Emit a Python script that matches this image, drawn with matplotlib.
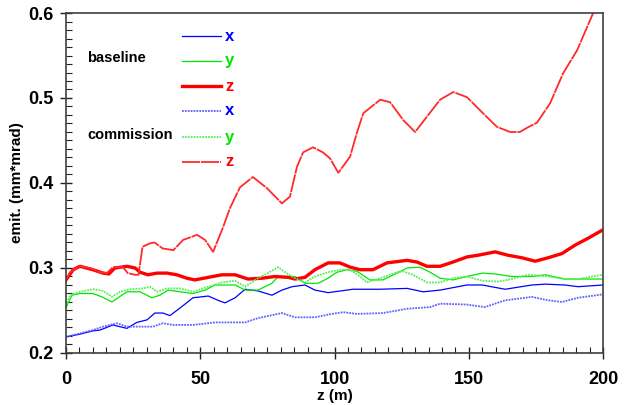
import numpy as np
import matplotlib
matplotlib.use("Agg")
import matplotlib.pyplot as plt
from matplotlib.lines import Line2D
from matplotlib.ticker import MultipleLocator, FormatStrFormatter

plt.rcParams['font.family'] = ['Liberation Sans', 'DejaVu Sans']

# baseline
bx_z = [0, 5, 10, 12.7, 17.5, 20, 22.7, 26.4, 30.2, 33.1, 36.1, 38.7, 42.5, 47.3, 53, 56.6, 59.2, 63, 66.7,
        71.5, 76.7, 80.4, 84.2, 89, 92.7, 97.6, 106.9, 117, 127, 133, 139.3, 149.3, 155, 163.5, 173.5,
        178.4, 185.8, 190.7, 200]
bx_v = [0.219, 0.222, 0.226, 0.227, 0.233, 0.231, 0.229, 0.236, 0.239, 0.247, 0.247, 0.244, 0.253, 0.265,
        0.267, 0.262, 0.259, 0.265, 0.275, 0.273, 0.268, 0.274, 0.278, 0.280, 0.274, 0.271, 0.275, 0.275,
        0.276, 0.272, 0.274, 0.280, 0.280, 0.275, 0.280, 0.281, 0.280, 0.278, 0.280]

by_z = [0, 2.2, 5.2, 10, 13.4, 17.1, 19.4, 22.7, 27.6, 32, 35, 38, 42.5, 47.3, 51.8, 55.5, 63, 66.7, 71.5,
        76.7, 79, 85.3, 89, 93.9, 97.6, 100.9, 104.7, 108.4, 113.2, 118, 123.3, 127, 131.8, 135.6, 139.3,
        144.1, 149.3, 155, 159.8, 166, 173.5, 178.4, 185.8, 190.7, 200]
by_v = [0.253, 0.268, 0.270, 0.270, 0.266, 0.260, 0.265, 0.272, 0.272, 0.265, 0.268, 0.274, 0.272, 0.270,
        0.274, 0.280, 0.280, 0.274, 0.274, 0.282, 0.290, 0.290, 0.282, 0.282, 0.288, 0.295, 0.298, 0.296,
        0.286, 0.286, 0.294, 0.300, 0.301, 0.295, 0.288, 0.286, 0.290, 0.294, 0.293, 0.290, 0.290, 0.292,
        0.287, 0.287, 0.287]

bzz_z = [0, 2.7, 5.2, 10, 13.8, 16, 18.2, 22.7, 25.7, 27.6, 30.5, 33.9, 37.6, 41.3, 45, 48, 53, 58, 63,
         67.8, 73, 77.8, 82.7, 85.3, 89, 92.7, 97.6, 102, 105.8, 109.5, 114.3, 119.5, 127, 130.7, 134.4,
         139.3, 144.1, 149.3, 153.4, 159.8, 164.6, 169.8, 174.7, 179.5, 184.7, 189.6, 194.4, 200]
bzz_v = [0.286, 0.298, 0.302, 0.298, 0.294, 0.293, 0.300, 0.302, 0.300, 0.295, 0.292, 0.294, 0.294, 0.292,
         0.288, 0.286, 0.289, 0.292, 0.292, 0.287, 0.288, 0.290, 0.289, 0.287, 0.289, 0.298, 0.306, 0.306,
         0.301, 0.298, 0.298, 0.306, 0.309, 0.307, 0.302, 0.302, 0.307, 0.313, 0.315, 0.319, 0.315, 0.312,
         0.308, 0.312, 0.317, 0.327, 0.335, 0.345]

# commission
cx_z = [0, 5.2, 10, 13.8, 19, 22.7, 27.6, 32.4, 36.1, 39.9, 47.3, 55.5, 66.7, 71.5, 80.4, 85.3, 92.7, 99,
        103.2, 108.4, 118, 127, 135.6, 139.3, 149.3, 156, 163.5, 173.5, 179.5, 184.7, 190.7, 200]
cx_v = [0.219, 0.223, 0.227, 0.231, 0.235, 0.231, 0.231, 0.231, 0.235, 0.233, 0.233, 0.236, 0.236, 0.241,
        0.247, 0.242, 0.242, 0.246, 0.248, 0.246, 0.247, 0.252, 0.254, 0.258, 0.257, 0.254, 0.262, 0.266,
        0.262, 0.260, 0.265, 0.269]

cy_z = [0, 1.5, 5.2, 10, 13.8, 17.1, 20.1, 23.8, 28.7, 31.3, 33.9, 37.6, 42.5, 47.3, 53, 58, 63, 66.7,
        71.5, 75.2, 79, 81.6, 85.3, 89, 92.7, 97.6, 102, 105.8, 109.5, 112, 117, 123.3, 125.5, 129.2,
        134.4, 139.3, 144.1, 149.3, 155, 161, 166, 172, 179.5, 185.8, 190.7, 196, 200]
cy_v = [0.256, 0.268, 0.272, 0.275, 0.273, 0.266, 0.272, 0.275, 0.276, 0.278, 0.272, 0.276, 0.276, 0.272,
        0.278, 0.283, 0.285, 0.278, 0.288, 0.294, 0.301, 0.295, 0.288, 0.283, 0.290, 0.295, 0.298, 0.298,
        0.290, 0.283, 0.288, 0.295, 0.296, 0.292, 0.283, 0.283, 0.288, 0.290, 0.285, 0.284, 0.287, 0.292,
        0.290, 0.287, 0.287, 0.290, 0.292]

czz_z = [0, 1.5, 5.2, 9, 12.7, 15.2, 17.5, 21.2, 23, 25.7, 27, 28.5, 31.3, 33, 36, 40, 43.6, 48.8, 51.8,
         54.8, 58.5, 61, 64.8, 69.6, 74.8, 80.4, 83.4, 86, 88.3, 92, 95.7, 98.3, 101.4, 105.8, 108.3,
         110.7, 117, 120.7, 125.6, 130, 134.4, 139.3, 144.2, 149.3, 155.3, 160.5, 165.4, 169, 171.7,
         175.4, 180.3, 185.1, 190.3, 196.3, 200]
czz_v = [0.286, 0.295, 0.302, 0.300, 0.295, 0.294, 0.301, 0.301, 0.294, 0.292, 0.292, 0.325, 0.329, 0.330,
         0.323, 0.321, 0.333, 0.339, 0.333, 0.319, 0.348, 0.370, 0.395, 0.407, 0.394, 0.376, 0.384, 0.419,
         0.436, 0.442, 0.436, 0.429, 0.412, 0.431, 0.459, 0.482, 0.498, 0.495, 0.474, 0.460, 0.478, 0.498,
         0.507, 0.501, 0.482, 0.466, 0.460, 0.460, 0.465, 0.471, 0.494, 0.529, 0.556, 0.600, 0.625]

fig = plt.figure(figsize=(6.26, 4.05), dpi=100)
ax = fig.add_axes([0.1054, 0.1284, 0.858, 0.8395])

styles = [
    (bx_z, bx_v, dict(color='#0000ff', lw=0.9, ls='-'), '#0000ff'),
    (by_z, by_v, dict(color='#00e600', lw=0.9, ls='-'), '#00e600'),
    (bzz_z, bzz_v, dict(color='#ff0000', lw=2.4, ls='-'), '#ff0000'),
    (cx_z, cx_v, dict(color='#6060ff', lw=1.3, ls=(0, (1, 0.6))), '#0000ff'),
    (cy_z, cy_v, dict(color='#55ee55', lw=1.3, ls=(0, (1, 0.6))), '#00e600'),
    (czz_z, czz_v, dict(color='#ff2a2a', lw=1.3, ls=(0, (10, 0.5))), '#ff0000'),
]
for zz, vv, st, _ in styles:
    ax.plot(zz, vv, **st)

ax.set_xlim(0, 200)
ax.set_ylim(0.2, 0.6)
ax.xaxis.set_major_locator(MultipleLocator(50))
ax.xaxis.set_minor_locator(MultipleLocator(5))
ax.yaxis.set_major_locator(MultipleLocator(0.1))
ax.yaxis.set_minor_locator(MultipleLocator(0.01))
ax.yaxis.set_major_formatter(FormatStrFormatter('%.1f'))
ax.tick_params(which='major', direction='inout', length=8, width=1, labelsize=13, color='#222222')
ax.tick_params(axis='x', which='major', pad=9)
ax.tick_params(axis='y', which='major', pad=5)
ax.tick_params(which='minor', direction='in', length=4, width=0.8, color='#222222')
for lab in ax.get_xticklabels() + ax.get_yticklabels():
    lab.set_fontweight('bold')
for sp in ax.spines.values():
    sp.set_color('#404040')
    sp.set_linewidth(1.2)

ax.set_xlabel('z (m)', fontsize=11, fontweight='bold', labelpad=0.5)
ax.set_ylabel('emit. (mm*mrad)', fontsize=11, fontweight='bold', labelpad=3)

# legend drawn by hand
rows = [0.932, 0.859, 0.785, 0.712, 0.635, 0.562]
for (zz, vv, st, tc), yy, txt in zip(styles, rows, ['x', 'y', 'z', 'x', 'y', 'z']):
    ax.add_line(Line2D([0.216, 0.289], [yy, yy], transform=ax.transAxes, **st))
    ax.text(0.296, yy, txt, transform=ax.transAxes, color=tc,
            fontsize=12, fontweight='bold', va='center', ha='left')
ax.text(0.039, 0.868, 'baseline', transform=ax.transAxes, fontsize=10.5, fontweight='bold', va='center')
ax.text(0.039, 0.641, 'commission', transform=ax.transAxes, fontsize=10.5, fontweight='bold', va='center')

fig.savefig('out.png', dpi=100)
